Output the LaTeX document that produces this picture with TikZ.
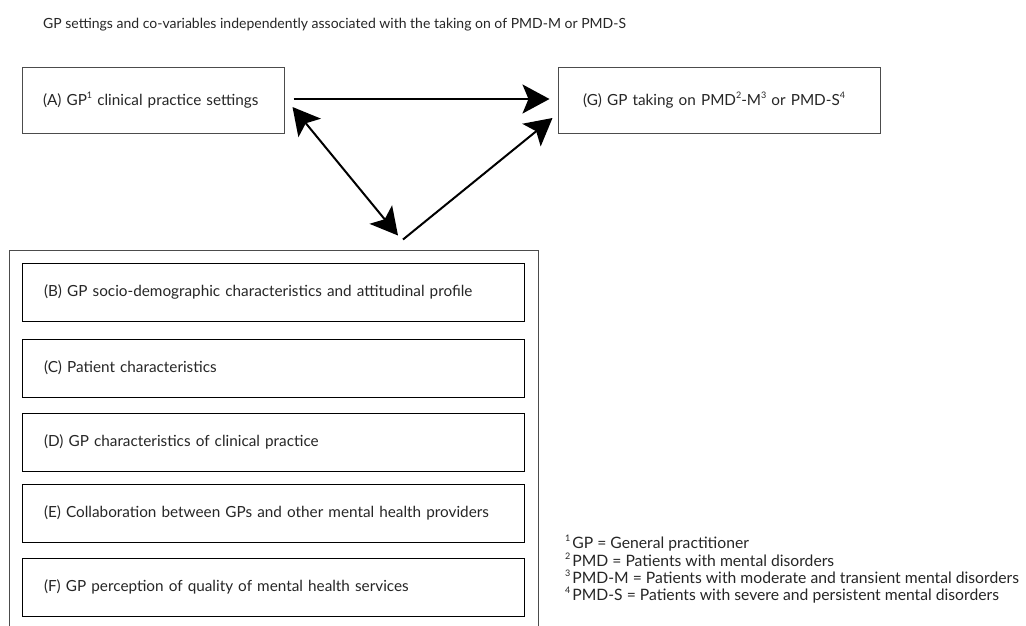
\documentclass[tikz,border=0pt]{standalone}
\usepackage{fontspec}
\setmainfont{Lato}
\usetikzlibrary{arrows.meta,calc}
\newcommand{\myss}[1]{\raisebox{0.42em}{\fontsize{9}{9}\selectfont #1}}
\begin{document}
\begin{tikzpicture}[x=1pt,y=-1pt,
  every node/.style={font=\fontsize{15.3}{17}\selectfont,text=black!85},
  outerbox/.style={draw=black!70,line width=1pt,align=left,inner ysep=0pt},
  innerbox/.style={draw=black,line width=1pt,minimum width=502pt,minimum height=58pt,text width=458pt,inner xsep=22pt,inner ysep=0pt,align=left},
  link/.style={line width=2pt,-{Stealth[length=27pt,width=29pt,inset=6pt]}},
  note/.style={anchor=base west,inner sep=0pt,font=\fontsize{15.7}{17}\selectfont}]
\useasboundingbox (0,0) rectangle (1026,625);
\fill[white] (0,0) rectangle (1026,625);
\node[note,font=\fontsize{14}{16}\selectfont] (title) at (43,28) {GP settings and co-variables independently associated with the taking on of PMD-M or PMD-S};
\node[outerbox,minimum width=262pt,minimum height=66pt,text width=220pt,inner xsep=21pt] (A) at (153,100) {(A) GP\myss{1} clinical practice settings};
\node[outerbox,minimum width=322pt,minimum height=66pt,text width=272pt,inner xsep=25pt] (G) at (719,100) {(G) GP taking on PMD\myss{2}-M\myss{3} or PMD-S\myss{4}};
\node[draw=black!70,line width=1pt,minimum width=529pt,minimum height=400pt,inner sep=0pt] (grp) at (273.5,450) {};
\node[innerbox] (B) at (273,292) {(B) GP socio-demographic characteristics and attitudinal profile};
\node[innerbox] (C) at (273,368) {(C) Patient characteristics};
\node[innerbox] (D) at (273,442) {(D) GP characteristics of clinical practice};
\node[innerbox] (E) at (273,513) {(E) Collaboration between GPs and other mental health providers};
\node[innerbox] (F) at (273,587) {(F) GP perception of quality of mental health services};
\coordinate (a1) at ($(A.east)+(8,7)$);
\coordinate (b1) at ($(grp.north)+(124.5,-14)$);
\coordinate (b2) at ($(grp.north)+(129.5,-10)$);
\coordinate (g1) at ($(G.west)+(-5,18)$);
\draw[link] (A.east) ++(9,-1) coordinate (a0) -- ($(G.west)+(-8,-1)$) coordinate (g0);
\draw[link,{Stealth[length=27pt,width=29pt,inset=6pt]}-{Stealth[length=27pt,width=29pt,inset=6pt]}] (a1) -- (b1);
\draw[link] (b2) -- (g1);
\node[note] (n1) at (565,548) {\myss{1}\kern2pt GP = General practitioner};
\node[note] (n2) at (565,566) {\myss{2}\kern2pt PMD = Patients with mental disorders};
\node[note] (n3) at (565,583) {\myss{3}\kern2pt PMD-M = Patients with moderate and transient mental disorders};
\node[note] (n4) at (565,600) {\myss{4}\kern2pt PMD-S = Patients with severe and persistent mental disorders};
\end{tikzpicture}
\end{document}
